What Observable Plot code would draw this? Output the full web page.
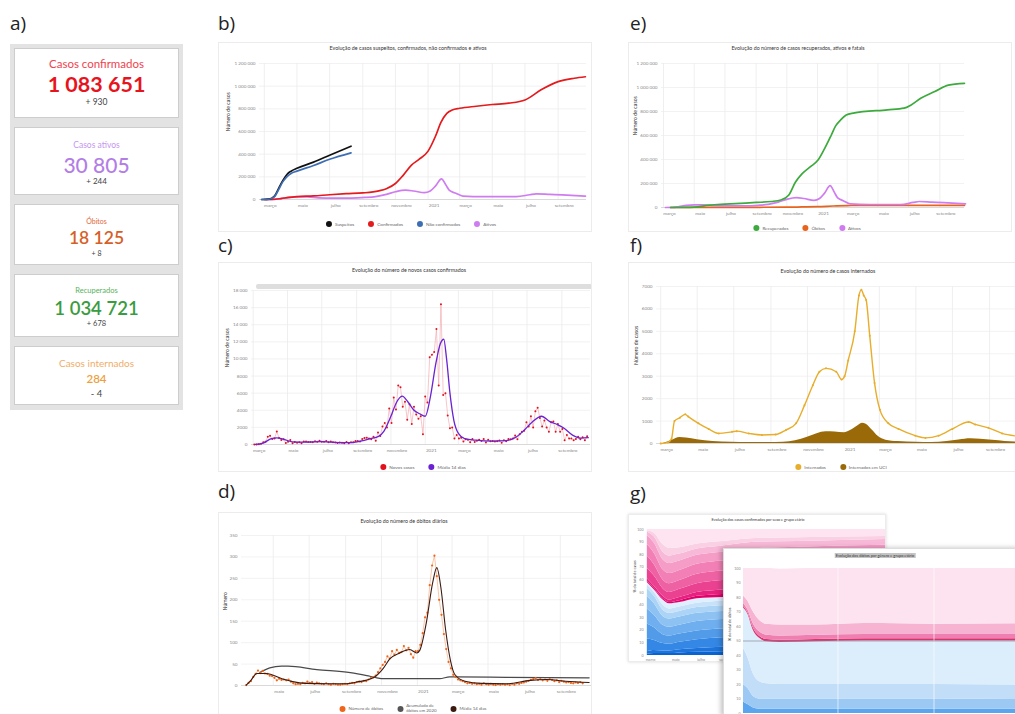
<!DOCTYPE html>
<html><head><meta charset="utf-8">
<script src="https://cdn.jsdelivr.net/npm/d3@7"></script>
<script src="https://cdn.jsdelivr.net/npm/@observablehq/plot@0.6"></script>
<style>
body{margin:0;width:1015px;height:714px;overflow:hidden;background:#fff;font-family:Lato,"Open Sans",sans-serif;position:relative}
.abs{position:absolute}
.plabel{position:absolute;font-family:"Open Sans",sans-serif;font-size:19px;color:#222;line-height:1}
.frame{position:absolute;border:1px solid #ececec;background:#fff;overflow:hidden;box-sizing:border-box}
.title{position:absolute;transform:translateX(-50%);white-space:nowrap;color:#333;line-height:1}
.legend{position:absolute;transform:translateX(-50%);display:flex;align-items:center;white-space:nowrap;color:#666;line-height:1}
.legend .it{display:inline-flex;align-items:center;margin:0 7px}
.legend i{display:inline-block;width:6px;height:6px;border-radius:50%;margin-right:3px}
.ctext{position:absolute;left:0;right:0;text-align:center;transform:translateY(-50%);line-height:1;white-space:nowrap}
.svgwrap{position:absolute}
.svgwrap svg{max-width:none !important}
</style></head>
<body>
<div id="root"></div>
<script>
// ---------------- DATA ----------------
const kpiLabels = ["Casos confirmados","Casos ativos","Óbitos","Recuperados","Casos internados"];
const kpiValues = ["1 083 651","30 805","18 125","1 034 721","284"];
const kpiDeltas = ["+ 930","+ 244","+ 8","+ 678","- 4"];

const xTickDates = ["2020-03-01","2020-05-01","2020-07-01","2020-09-01","2020-11-01","2021-01-01","2021-03-01","2021-05-01","2021-07-01","2021-09-01"];
const xTickLabels = ["março","maio","julho","setembro","novembro","2021","março","maio","julho","setembro"];

// b) / e) cumulative series (thousands)
const suspeitos = [["2020-02-25",0],["2020-03-10",3],["2020-03-20",30],["2020-03-28",100],["2020-04-05",170],["2020-04-13",225],["2020-04-20",250],["2020-05-01",275],["2020-06-01",330],["2020-07-01",390],["2020-08-10",470]];
const naoConfirmados = [["2020-02-25",0],["2020-03-10",2],["2020-03-20",25],["2020-03-28",90],["2020-04-05",160],["2020-04-13",205],["2020-04-20",230],["2020-05-01",250],["2020-06-01",300],["2020-07-01",355],["2020-08-10",412]];
const confirmados = [["2020-03-02",0],["2020-03-15",0.3],["2020-04-01",8],["2020-04-15",18],["2020-05-01",25],["2020-06-01",32],["2020-07-01",42],["2020-08-01",51],["2020-09-01",58],["2020-10-01",76],["2020-10-15",95],["2020-11-01",141],["2020-11-15",211],["2020-12-01",304],["2020-12-15",354],["2021-01-01",427],["2021-01-15",560],["2021-01-25",680],["2021-02-05",760],["2021-02-15",790],["2021-03-01",805],["2021-04-01",823],["2021-05-01",838],["2021-06-01",850],["2021-07-01",878],["2021-08-01",970],["2021-09-01",1040],["2021-10-01",1070],["2021-10-22",1083]];
const ativos = [["2020-03-05",0],["2020-03-20",1],["2020-04-01",8],["2020-04-15",17],["2020-05-01",22],["2020-05-20",22],["2020-06-10",15],["2020-07-10",13],["2020-08-10",13],["2020-09-05",18],["2020-09-25",26],["2020-10-15",45],["2020-11-01",68],["2020-11-20",82],["2020-12-05",75],["2020-12-25",60],["2021-01-05",75],["2021-01-15",120],["2021-01-26",182],["2021-02-03",130],["2021-02-10",80],["2021-02-22",55],["2021-03-07",30],["2021-04-14",25],["2021-06-15",25],["2021-07-10",42],["2021-07-22",50],["2021-08-16",45],["2021-09-09",40],["2021-10-22",30]];
const recuperados = [["2020-03-15",0],["2020-04-15",0.5],["2020-05-01",3],["2020-06-01",20],["2020-07-01",28],["2020-08-01",35],["2020-09-01",42],["2020-10-01",50],["2020-10-20",62],["2020-11-05",105],["2020-11-18",210],["2020-12-01",280],["2020-12-18",340],["2021-01-02",395],["2021-01-15",490],["2021-01-28",600],["2021-02-06",680],["2021-02-16",730],["2021-02-27",770],["2021-03-13",786],["2021-05-20",814],["2021-06-22",828],["2021-07-06",855],["2021-07-25",910],["2021-08-22",967],["2021-09-18",1020],["2021-10-20",1035]];
const obitosAcum = [["2020-03-15",0],["2020-04-15",0.6],["2020-06-01",1.4],["2020-09-01",1.8],["2020-11-01",2.5],["2020-12-01",4.6],["2021-01-01",7.1],["2021-02-01",12.5],["2021-03-01",16.4],["2021-05-01",17],["2021-10-20",18.1]];

// c) daily new cases, one value every 4 days from 2020-03-03
const novosCasosInicio = "2020-03-03";
const novosCasos = [2,8,20,80,260,320,900,1030,640,700,1516,750,520,600,180,330,530,140,290,210,250,160,350,350,300,290,250,380,310,450,330,330,420,250,340,250,220,180,240,190,150,280,150,250,270,400,420,350,650,770,780,690,620,900,430,1400,1000,2100,2500,2000,4200,2500,5500,4100,6900,6700,4400,5000,2900,4700,2400,4400,3500,3000,3300,1200,5600,4900,10200,10500,10800,13500,6900,16400,5800,6000,3400,1900,2000,700,1100,700,800,350,600,550,250,650,300,450,560,400,650,220,550,380,410,360,370,480,210,500,390,650,600,700,1050,600,1200,1500,1600,2600,2100,3300,2000,3900,4300,3100,2100,2800,2000,1500,2600,2700,1500,2400,1500,1800,500,1100,700,700,500,650,900,600,850,500,950];
const media14Casos = [["2020-03-05",5],["2020-03-20",200],["2020-04-01",650],["2020-04-12",780],["2020-04-25",600],["2020-05-10",300],["2020-06-01",280],["2020-07-01",330],["2020-08-01",220],["2020-08-25",230],["2020-09-10",420],["2020-09-25",680],["2020-10-10",950],["2020-10-20",1600],["2020-11-01",3300],["2020-11-10",4800],["2020-11-21",5650],["2020-12-01",5000],["2020-12-12",4000],["2020-12-22",3600],["2021-01-01",3300],["2021-01-10",5500],["2021-01-20",9500],["2021-01-28",11800],["2021-02-03",12300],["2021-02-08",10000],["2021-02-14",6000],["2021-02-21",2800],["2021-03-01",1300],["2021-03-12",700],["2021-04-01",500],["2021-05-01",400],["2021-05-25",450],["2021-06-10",800],["2021-06-25",1600],["2021-07-10",2600],["2021-07-27",3300],["2021-08-10",2700],["2021-08-25",2300],["2021-09-05",1900],["2021-09-20",1100],["2021-10-05",750],["2021-10-18",800]];

// d) daily deaths, one value every 4 days from 2020-03-16
const obitosInicio = "2020-03-16";
const obitosDiarios = [1,6,10,20,27,35,29,34,28,27,23,22,18,12,16,13,14,12,14,9,5,3,4,3,6,5,9,6,8,4,7,5,4,3,5,3,2,4,3,2,2,3,4,3,5,6,5,8,9,8,11,10,14,17,19,23,31,40,48,55,68,63,80,72,83,76,78,92,82,88,73,65,80,80,95,122,159,170,234,280,303,255,200,165,120,85,55,40,25,20,14,12,10,8,5,6,4,5,3,4,2,5,3,2,4,2,1,3,2,3,2,3,1,4,2,5,4,6,7,9,11,13,15,17,13,15,12,14,11,15,13,10,12,8,11,9,7,8,6,5,7,6,8,5];
const acumulado2020 = [["2020-04-08",30],["2020-04-25",41],["2020-05-15",45],["2020-05-26",45],["2020-07-14",37],["2020-09-09",30],["2020-10-07",23],["2020-10-24",18],["2020-11-04",16],["2021-02-08",16],["2021-02-25",20],["2021-06-01",19],["2021-10-20",18]];
const media14Obitos = [["2020-03-16",1],["2020-03-24",12],["2020-04-03",28],["2020-04-19",28],["2020-05-17",15],["2020-06-03",9],["2020-06-25",5],["2020-08-01",4],["2020-09-01",4],["2020-09-20",8],["2020-10-18",18],["2020-11-04",40],["2020-11-15",62],["2020-12-02",76],["2020-12-19",84],["2020-12-31",76],["2021-01-05",82],["2021-01-16",145],["2021-01-27",240],["2021-02-03",275],["2021-02-10",228],["2021-02-18",130],["2021-02-26",60],["2021-03-06",25],["2021-03-23",10],["2021-04-20",5],["2021-06-01",4],["2021-07-12",12],["2021-08-09",14],["2021-09-10",10],["2021-10-20",7]];

// f) hospitalised
const internados = [["2020-03-01",0],["2020-03-13",50],["2020-03-19",200],["2020-03-24",1000],["2020-04-02",1150],["2020-04-11",1300],["2020-04-16",1200],["2020-05-03",900],["2020-05-20",650],["2020-06-06",450],["2020-06-28",520],["2020-07-06",550],["2020-07-26",450],["2020-08-17",380],["2020-09-09",400],["2020-09-26",600],["2020-10-13",900],["2020-10-27",1700],["2020-11-10",2600],["2020-11-21",3200],["2020-12-02",3350],["2020-12-19",3200],["2020-12-28",2850],["2021-01-02",3000],["2021-01-08",3700],["2021-01-19",5000],["2021-01-26",6600],["2021-01-30",6850],["2021-02-03",6600],["2021-02-07",6400],["2021-02-13",4800],["2021-02-21",2700],["2021-03-02",1500],["2021-03-16",900],["2021-04-02",650],["2021-04-30",350],["2021-05-17",250],["2021-06-08",350],["2021-07-01",650],["2021-07-28",960],["2021-08-08",850],["2021-08-30",700],["2021-09-22",450],["2021-10-16",330]];
const internadosUCI = [["2020-03-05",0],["2020-03-20",150],["2020-04-02",270],["2020-04-13",250],["2020-05-01",170],["2020-05-27",90],["2020-06-27",60],["2020-07-27",45],["2020-08-27",40],["2020-09-22",60],["2020-10-12",120],["2020-11-01",280],["2020-11-17",440],["2020-12-02",520],["2020-12-17",510],["2021-01-02",480],["2021-01-15",620],["2021-01-25",800],["2021-02-01",900],["2021-02-07",860],["2021-02-17",600],["2021-02-27",320],["2021-03-12",150],["2021-04-01",90],["2021-05-02",60],["2021-05-27",50],["2021-06-22",90],["2021-07-12",160],["2021-08-01",210],["2021-08-17",190],["2021-09-06",140],["2021-09-27",90],["2021-10-16",70]];

// g) shares (%) by sex and age group
const gruposEtarios = ["0-9","10-19","20-29","30-39","40-49","50-59","60-69","70-79","80+"];
const casosDatas = ["2020-03-03","2020-03-20","2020-04-10","2020-04-25","2020-05-20","2020-07-01","2020-09-01","2020-12-01","2021-03-01","2021-10-01"];
const casosHomens = [[1,2,10,12,12,10,6,3,2],[1.5,2.5,8,10,10,9,6,3,2],[1.5,2,6,7,7.5,7,5,4,4],[1.5,2,5.5,6.5,7,6.5,4.5,3.5,4],[2,2.5,6,6.5,7,6.5,4.5,3.5,3.5],[2.5,3,7,7,7.5,6.5,4.5,3.5,3.5],[3,3.5,7.5,7,7.5,6.5,4.5,3.5,3],[3.5,4.5,7.5,7,7.5,6.5,4.5,3,3],[4,5,7.5,7,7.5,6.5,4.5,2.5,2.5],[4.5,5.5,7.5,7,7.5,6.5,4,2.5,2]];
const casosMulheres = [[1,2,8,10,9,7,3,1,1],[1,2,8,9,9,8,5,3,3],[1,2,6,7,8,8,6,6,12],[1,2,6,7,8,8,6,6,15],[1.5,2.5,6.5,7,8,7.5,5.5,5,14.5],[2,3,7,7.5,8,7,5,4,11.5],[2.5,3.5,7.5,7.5,8,7,5,3.5,9.5],[3,4.5,7.5,7.5,8.5,7,5,3,7],[3.5,5,7.5,7.5,8.5,7,4.5,3,6.5],[4,5.5,8,7.5,8.5,7,4.5,2.5,5.5]];
const gruposObitos = ["<60","60-69","70-79","80+"];
const obitosDatas = ["2020-03-16","2020-03-19","2020-03-22","2020-03-26","2020-03-31","2020-04-08","2020-05-01","2020-06-01","2020-07-15","2020-10-01","2021-02-01","2021-10-01"];
const obitosHomens = [[8,12,25,28],[6,11,21,30],[4,8,16,30],[3,7,12,30],[3,7,10.5,29],[3,7,10,29],[3,7,10,29.5],[3,7,10,30],[3,7,10,30],[3,6.5,10,30.5],[3,7,10,30],[3,7,10,30]];
const obitosMulheres = [[1,2,5,19],[1,2,6,23],[1.5,3,8,29.5],[1.5,3,8,35.5],[1.5,3,7.5,38.5],[1.5,3,7.5,38.5],[1.5,3,7,39],[1.5,3,7.5,38],[1.5,3,7,38.5],[1.5,3,7.5,38],[1.5,3,7.5,38],[1.5,3,7.5,38]];

// ---------------- HELPERS ----------------
const root = document.getElementById("root");
function el(tag, cls, css, html, parent) {
  const e = document.createElement(tag);
  if (cls) e.className = cls;
  if (css) e.style.cssText = css;
  if (html != null) e.innerHTML = html;
  (parent || root).appendChild(e);
  return e;
}
const P = a => a.map(([d, v]) => ({date: new Date(d), value: v}));
const K = a => a.map(([d, v]) => ({date: new Date(d), value: v * 1000}));
const seq = (start, vals) => vals.map((v, i) => ({date: d3.utcDay.offset(new Date(start), 4 * i), value: v}));
const fmtSpace = d => d >= 10000 ? d3.format(",")(d).replace(/,/g, " ") : String(d);
const labelOf = new Map(xTickDates.map((d, i) => [+new Date(d), xTickLabels[i]]));

function timeChart(o) {
  const x0 = new Date(o.xDomain[0]), x1 = new Date(o.xDomain[1]);
  const ticks = xTickDates.map(d => new Date(d)).filter(d => d >= x0 && d <= x1);
  return Plot.plot({
    width: o.width, height: o.height,
    marginLeft: o.ml, marginRight: o.mr, marginTop: o.mt, marginBottom: o.mb,
    style: {fontFamily: "Lato, 'Open Sans', sans-serif", fontSize: o.fs + "px", color: "#888", background: "transparent", overflow: "visible"},
    x: {type: "utc", domain: [x0, x1]},
    y: {domain: o.yDomain},
    marks: [
      Plot.gridX(ticks, {stroke: "#e8e8e8", strokeOpacity: 1, strokeWidth: 0.7}),
      Plot.gridY(o.yTicks, {stroke: "#ececec", strokeOpacity: 1, strokeWidth: 0.7}),
      Plot.axisY(o.yTicks, {tickSize: 0, tickPadding: o.ytp ?? 4, tickFormat: o.yFormat || fmtSpace, label: null, fill: "#888"}),
      Plot.axisX(ticks, {tickSize: 0, tickPadding: o.xtp ?? 4, tickFormat: d => labelOf.get(+d), label: null, dx: o.xdx ?? 6, fill: "#888"}),
      Plot.ruleY([o.yDomain[0]], {stroke: "#cfcfcf", strokeWidth: 0.7}),
      Plot.text([o.ylabel], {frameAnchor: "left", rotate: -90, dx: -o.ylo, fontSize: o.fs + 0.6, fill: "#333"}),
      ...o.marks
    ]
  });
}
function place(svg, parent, left, top) {
  const w = el("div", "svgwrap", `left:${left}px;top:${top}px`, null, parent);
  w.appendChild(svg);
}
function legend(parent, left, top, items, fs) {
  const L = el("div", "legend", `left:${left}px;top:${top}px;font-size:${fs}px`, null, parent);
  items.forEach(([c, t]) => el("span", "it", null, `<i style="background:${c}"></i>${t}`, L));
}

// ---------------- PANEL LABELS ----------------
[["a)",10,14],["b)",218,14],["e)",630,14],["c)",218,236],["f)",630,236],["d)",218,482],["g)",630,484]]
  .forEach(([t, x, y]) => el("div", "plabel", `left:${x}px;top:${y}px`, t));

// ---------------- PANEL A ----------------
el("div", "abs", "left:10px;top:44px;width:173px;height:366px;background:#e3e3e3");
const cardLayout = [
  {top: 48, h: 70, lab: [15, 11.5, "#f0434d", 400], num: [35.5, 21.5, "#e8141d", 700], del: [52.5, 8.5]},
  {top: 127, h: 68, lab: [17, 8.5, "#c596f0", 400], num: [36, 21, "#b27ee6", 500], del: [53, 8]},
  {top: 204, h: 61, lab: [16, 7, "#e0683a", 400], num: [33, 17.5, "#d65f28", 600], del: [48, 7]},
  {top: 274, h: 63, lab: [16, 7.5, "#58b35a", 400], num: [33, 18.5, "#3a9c40", 600], del: [49, 7.5]},
  {top: 346, h: 59, lab: [16, 10, "#f0ad68", 400], num: [32, 11.5, "#eca040", 600], del: [47, 9.5]}
];
cardLayout.forEach((c, i) => {
  const card = el("div", "abs", `left:14px;top:${c.top}px;width:165px;height:${c.h}px;background:#fff;border:1px solid #cdcdcd;box-sizing:border-box`);
  el("div", "ctext", `top:${c.lab[0]}px;font-size:${c.lab[1]}px;color:${c.lab[2]};font-weight:${c.lab[3]}`, kpiLabels[i], card);
  el("div", "ctext", `top:${c.num[0]}px;font-size:${c.num[1]}px;color:${c.num[2]};font-weight:${c.num[3]}`, kpiValues[i], card);
  el("div", "ctext", `top:${c.del[0]}px;font-size:${c.del[1]}px;color:#444`, kpiDeltas[i], card);
});

// ---------------- PANEL B ----------------
{
  const f = el("div", "frame", "left:218px;top:42px;width:374px;height:190px");
  el("div", "title", "left:189px;top:3px;font-size:5.3px", "Evolução de casos suspeitos, confirmados, não confirmados e ativos", f);
  place(timeChart({
    width: 374, height: 160, ml: 40, mr: 7, mt: 7, mb: 17, fs: 4.6,
    xDomain: ["2020-02-21", "2021-10-24"], yDomain: [0, 1200000],
    yTicks: [0, 200000, 400000, 600000, 800000, 1000000, 1200000], ylabel: "Número de casos", ylo: 31,
    marks: [
      Plot.line(K(ativos), {x: "date", y: "value", stroke: "#cf7cf0", strokeWidth: 1.7, curve: "monotone-x"}),
      Plot.line(K(confirmados), {x: "date", y: "value", stroke: "#e41a1c", strokeWidth: 1.7, curve: "monotone-x"}),
      Plot.line(K(suspeitos), {x: "date", y: "value", stroke: "#111", strokeWidth: 1.7, curve: "monotone-x"}),
      Plot.line(K(naoConfirmados), {x: "date", y: "value", stroke: "#3d6eb4", strokeWidth: 1.7, curve: "monotone-x"})
    ]
  }), f, 0, 13);
  legend(f, 192, 178, [["#111", "Suspeitos"], ["#e41a1c", "Confirmados"], ["#3d6eb4", "Não confirmados"], ["#cf7cf0", "Ativos"]], 4.6);
}

// ---------------- PANEL E ----------------
{
  const f = el("div", "frame", "left:628px;top:42px;width:384px;height:190px");
  el("div", "title", "left:169px;top:3px;font-size:5.3px", "Evolução do número de casos recuperados, ativos e fatais", f);
  place(timeChart({
    width: 384, height: 168, ml: 32, mr: 49, mt: 7, mb: 17, fs: 4.6,
    xDomain: ["2020-02-26", "2021-10-20"], yDomain: [0, 1200000],
    yTicks: [0, 200000, 400000, 600000, 800000, 1000000, 1200000], ylabel: "Número de casos", ylo: 26,
    marks: [
      Plot.line(K(obitosAcum), {x: "date", y: "value", stroke: "#e8641e", strokeWidth: 1.7, curve: "monotone-x"}),
      Plot.line(K(ativos), {x: "date", y: "value", stroke: "#cf7cf0", strokeWidth: 1.7, curve: "monotone-x"}),
      Plot.line(K(recuperados), {x: "date", y: "value", stroke: "#3caa3c", strokeWidth: 1.7, curve: "monotone-x"})
    ]
  }), f, 0, 13);
  legend(f, 178, 182, [["#3caa3c", "Recuperados"], ["#e8641e", "Óbitos"], ["#cf7cf0", "Ativos"]], 4.6);
}

// ---------------- PANEL C ----------------
{
  const f = el("div", "frame", "left:218px;top:262px;width:374px;height:210px");
  el("div", "title", "left:190px;top:5px;font-size:5.3px", "Evolução do número de novos casos confirmados", f);
  el("div", "abs", "left:37px;top:21px;width:336px;height:5px;background:#dedede;border-radius:2px", null, f);
  const daily = seq(novosCasosInicio, novosCasos);
  place(timeChart({
    width: 374, height: 176, ml: 32, mr: 3, mt: 6, mb: 16, fs: 4.6,
    xDomain: ["2020-02-27", "2021-10-22"], yDomain: [0, 18000],
    yTicks: d3.range(0, 18001, 2000), ylabel: "Número de casos", ylo: 24,
    marks: [
      Plot.line(daily, {x: "date", y: "value", stroke: "#f2a0a6", strokeWidth: 0.6}),
      Plot.dot(daily, {x: "date", y: "value", r: 1, fill: "#e3101d"}),
      Plot.line(P(media14Casos), {x: "date", y: "value", stroke: "#6a22d4", strokeWidth: 1.3, curve: "monotone-x"})
    ]
  }), f, 0, 21);
  legend(f, 204, 201, [["#e3101d", "Novos casos"], ["#6a22d4", "Média 14 dias"]], 4.6);
}

// ---------------- PANEL D ----------------
{
  const f = el("div", "frame", "left:218px;top:512px;width:374px;height:204px");
  el("div", "title", "left:185px;top:6px;font-size:5.3px", "Evolução do número de óbitos diários", f);
  const daily = seq(obitosInicio, obitosDiarios);
  place(timeChart({
    width: 374, height: 172, ml: 22, mr: 2, mt: 7, mb: 15, fs: 4.6,
    xDomain: ["2020-03-08", "2021-10-24"], yDomain: [0, 350],
    yTicks: d3.range(0, 351, 50), ylabel: "Número", ylo: 16,
    marks: [
      Plot.line(P(acumulado2020), {x: "date", y: "value", stroke: "#4a4a4a", strokeWidth: 1.2, curve: "monotone-x"}),
      Plot.line(daily, {x: "date", y: "value", stroke: "#f5a06a", strokeWidth: 0.6}),
      Plot.dot(daily, {x: "date", y: "value", r: 1.1, fill: "#f0641b"}),
      Plot.line(P(media14Obitos), {x: "date", y: "value", stroke: "#3b1a12", strokeWidth: 1.1, curve: "monotone-x"})
    ]
  }), f, 0, 15);
  const L = el("div", "legend", "left:194px;top:191px;font-size:4.4px", null, f);
  el("span", "it", null, `<i style="background:#f0641b"></i>Número de óbitos`, L);
  el("span", "it", null, `<i style="background:#555"></i><span style="display:inline-block;line-height:1.1">Acumulado de<br>óbitos em 2020</span>`, L);
  el("span", "it", null, `<i style="background:#3b1a12"></i>Média 14 dias`, L);
}

// ---------------- PANEL F ----------------
{
  const f = el("div", "frame", "left:628px;top:262px;width:392px;height:210px");
  el("div", "title", "left:199px;top:6px;font-size:5.3px", "Evolução do número de casos internados", f);
  place(timeChart({
    width: 392, height: 180, ml: 27, mr: 2, mt: 7, mb: 16, fs: 4.6,
    xDomain: ["2020-02-23", "2021-10-21"], yDomain: [0, 7000],
    yTicks: d3.range(0, 7001, 1000), yFormat: d => String(d), ylabel: "Número de casos", ylo: 20,
    marks: [
      Plot.areaY(P(internadosUCI), {x: "date", y: "value", fill: "#9a6a08", curve: "monotone-x"}),
      Plot.line(P(internados), {x: "date", y: "value", stroke: "#e8ad2a", strokeWidth: 1.4, curve: "monotone-x"}),
      Plot.dot(P(internados), {x: "date", y: "value", r: 1, fill: "#e8ad2a"})
    ]
  }), f, 0, 16);
  legend(f, 212, 201, [["#e8ad2a", "Internados"], ["#9a6a08", "Internados em UCI"]], 4.6);
}

// ---------------- PANEL G ----------------
function shareRows(dates, rows, prefix) {
  const out = [];
  dates.forEach((d, i) => rows[i].forEach((v, j) => out.push({date: new Date(d), group: prefix + j, value: v})));
  return out;
}
{
  // back window: cases
  const f = el("div", "frame", "left:628px;top:514px;width:258px;height:148px;box-shadow:0 0 3px rgba(0,0,0,0.15)");
  el("div", "title", "left:129px;top:3px;font-size:3.8px", "Evolução dos casos confirmados por sexo e grupo etário", f);
  const data = [...shareRows(casosDatas, casosHomens, "H"), ...shareRows(casosDatas, casosMulheres, "M")];
  const order = [...gruposEtarios.map((g, j) => "H" + j), ...gruposEtarios.map((g, j) => "M" + j)];
  const colors = ["#0b63d0","#1d74dc","#3487e4","#519be9","#6fafef","#8ec2f3","#acd4f7","#c8e2fa","#e0effd",
                  "#e1006c","#e6217f","#ea4291","#ee62a4","#f280b6","#f59dc7","#f8b8d7","#fad0e4","#fde4f0"];
  const ticks = xTickDates.map(d => new Date(d)).filter(d => d >= new Date("2020-03-01"));
  const svg = Plot.plot({
    width: 258, height: 140, marginLeft: 17, marginRight: 1, marginTop: 4, marginBottom: 10,
    style: {fontFamily: "Lato, sans-serif", fontSize: "3.6px", color: "#888", background: "transparent", overflow: "visible"},
    x: {type: "utc", domain: [new Date("2020-03-01"), new Date("2021-10-01")]},
    y: {domain: [0, 100]},
    color: {domain: order, range: colors},
    marks: [
      Plot.areaY(data, {x: "date", y: "value", z: "group", fill: "group", order, curve: "monotone-x"}),
      Plot.axisY(d3.range(0, 101, 10), {tickSize: 0, tickPadding: 3, label: null, fill: "#888"}),
      Plot.axisX(ticks, {tickSize: 0, tickPadding: 3, tickFormat: d => labelOf.get(+d), label: null, dx: 4, fill: "#888"}),
      Plot.text(["% do total de casos"], {frameAnchor: "left", rotate: -90, dx: -12, fontSize: 3.8, fill: "#333"})
    ]
  });
  place(svg, f, 0, 10);
}
{
  // front window: deaths
  const f = el("div", "frame", "left:723px;top:548px;width:300px;height:168px;border-color:#ddd;box-shadow:-2px 0 5px rgba(0,0,0,0.25)");
  el("div", "title", "left:151px;top:4px;font-size:3.9px;background:#c4c4c4;padding:0.5px 1px", "Evolução dos óbitos por género e grupo etário", f);
  const data = [...shareRows(obitosDatas, obitosHomens, "H"), ...shareRows(obitosDatas, obitosMulheres, "M")];
  const order = [...gruposObitos.map((g, j) => "H" + j), ...gruposObitos.map((g, j) => "M" + j)];
  const colors = ["#5aa5ee","#9bc9f4","#c2ddf8","#dcedfb","#d8326f","#ef7fb0","#f6b4d2","#fde3ef"];
  const gridTicks = ["2020-05-15","2020-07-15","2020-09-15","2020-11-15","2021-01-15","2021-03-15","2021-05-15","2021-07-15","2021-09-15"].map(d => new Date(d));
  const svg = Plot.plot({
    width: 909, height: 160, marginLeft: 19, marginRight: 2, marginTop: 7, marginBottom: 8,
    style: {fontFamily: "Lato, sans-serif", fontSize: "3.6px", color: "#888", background: "transparent", overflow: "visible"},
    x: {type: "utc", domain: [new Date("2020-03-16"), new Date("2021-10-01")], axis: null},
    y: {domain: [0, 100]},
    color: {domain: order, range: colors},
    marks: [
      Plot.areaY(data, {x: "date", y: "value", z: "group", fill: "group", order, curve: "monotone-x"}),
      Plot.gridX(gridTicks, {stroke: "#fff", strokeOpacity: 0.8, strokeWidth: 0.8}),
      Plot.ruleY([50], {stroke: "#8c8c9c", strokeWidth: 0.7}),
      Plot.axisY(d3.range(0, 101, 10), {tickSize: 0, tickPadding: 3, label: null, fill: "#888"}),
      Plot.text(["% do total de óbitos"], {frameAnchor: "left", rotate: -90, dx: -14, fontSize: 3.8, fill: "#333"})
    ]
  });
  place(svg, f, 0, 12);
}
</script>
</body></html>
